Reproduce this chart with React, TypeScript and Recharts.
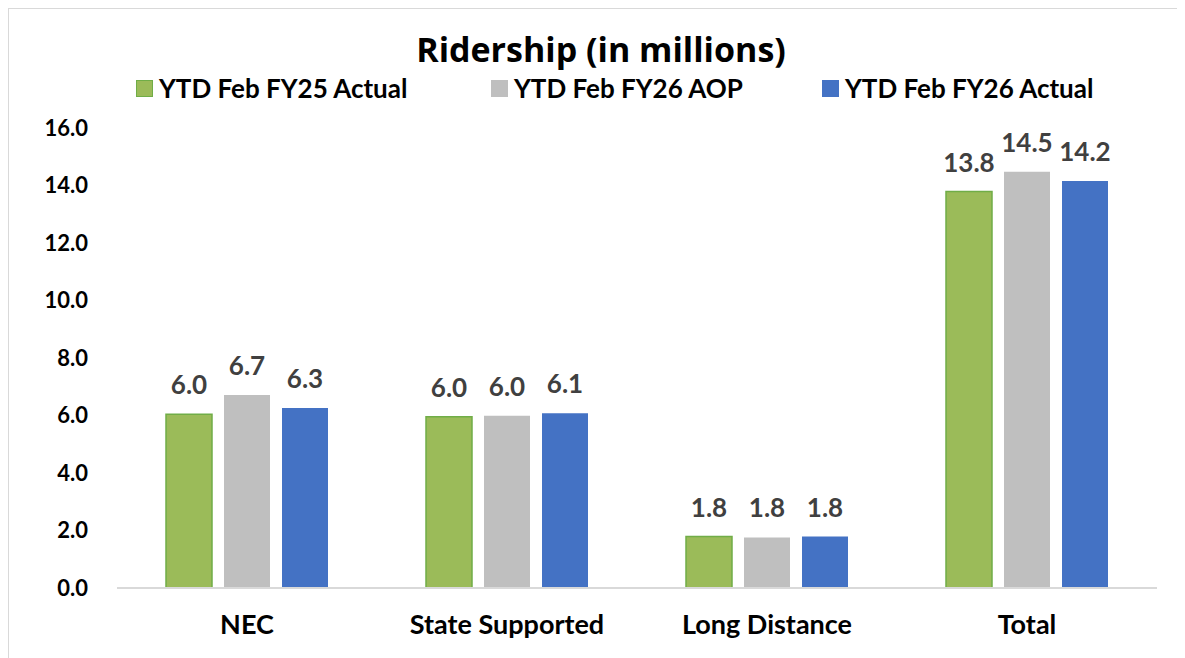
import { BarChart, Bar, XAxis, YAxis, LabelList } from 'recharts'

const categories = ['NEC', 'State Supported', 'Long Distance', 'Total']
const fy25Actual = [6.04, 5.96, 1.79, 13.79]
const fy26Aop = [6.71, 5.99, 1.76, 14.48]
const fy26Actual = [6.26, 6.08, 1.79, 14.16]
const yTicks = [0, 2, 4, 6, 8, 10, 12, 14, 16]

const series = [
  { key: 'fy25Actual', name: 'YTD Feb FY25 Actual', fill: '#9BBB59', stroke: '#70AD47' },
  { key: 'fy26Aop', name: 'YTD Feb FY26 AOP', fill: '#BFBFBF', stroke: 'none' },
  { key: 'fy26Actual', name: 'YTD Feb FY26 Actual', fill: '#4472C4', stroke: 'none' },
]

const data = categories.map((name, i) => ({
  name,
  fy25Actual: fy25Actual[i],
  fy26Aop: fy26Aop[i],
  fy26Actual: fy26Actual[i],
}))

const FONT = 'Lato, "Open Sans", sans-serif'
const legendLeft = [127, 482, 813]

export default function App() {
  return (
    <div
      style={{
        position: 'relative',
        marginLeft: -1,
        marginTop: -1,
        width: 1200,
        height: 700,
        borderTop: '2px solid #d9d9d9',
        borderLeft: '2px solid #d9d9d9',
        fontFamily: FONT,
      }}
    >
      <div
        style={{
          position: 'absolute',
          left: 0,
          width: 1184,
          top: 23,
          textAlign: 'center',
          fontSize: 34,
          fontWeight: 700,
          fontFamily: '"Open Sans", sans-serif',
          color: '#000',
          lineHeight: '34px',
        }}
      >
        Ridership (in millions)
      </div>
      {series.map((s, i) => (
        <div
          key={s.key}
          style={{
            position: 'absolute',
            left: legendLeft[i],
            top: 67,
            height: 24,
            lineHeight: '24px',
            display: 'flex',
            alignItems: 'center',
            fontSize: 26,
            fontWeight: 700,
            color: '#000',
            whiteSpace: 'nowrap',
          }}
        >
          <span
            style={{
              display: 'inline-block',
              width: 15,
              height: 15,
              background: s.fill,
              border: s.stroke === 'none' ? `1px solid ${s.fill}` : `1px solid ${s.stroke}`,
              marginRight: 6,
            }}
          />
          {s.name}
        </div>
      ))}
      <BarChart
        width={1176}
        height={649}
        data={data}
        margin={{ top: 119, right: 28, bottom: 0, left: 0 }}
        barCategoryGap={49}
        barGap={12}
      >
        <XAxis
          dataKey="name"
          height={70}
          stroke="#d9d9d9"
          strokeWidth={2}
          tickLine={false}
          tickSize={0}
          tickMargin={27}
          tick={{ fontSize: 27, fontWeight: 700, fill: '#000', fontFamily: FONT }}
        />
        <YAxis
          width={108}
          domain={[0, 16]}
          ticks={yTicks}
          axisLine={false}
          tickLine={false}
          tickSize={0}
          tickMargin={29}
          tickFormatter={(v: number) => v.toFixed(1)}
          tick={{ fontSize: 22, fontWeight: 700, fill: '#000', fontFamily: FONT }}
        />
        {series.map((s) => (
          <Bar
            key={s.key}
            dataKey={s.key}
            name={s.name}
            fill={s.fill}
            stroke={s.stroke}
            strokeWidth={s.stroke === 'none' ? 0 : 1.5}
            isAnimationActive={false}
          >
            <LabelList
              dataKey={s.key}
              position="top"
              offset={20}
              formatter={(v: number) => v.toFixed(1)}
              style={{ fontSize: 26, fontWeight: 700, fill: '#404040', fontFamily: FONT }}
            />
          </Bar>
        ))}
      </BarChart>
    </div>
  )
}
